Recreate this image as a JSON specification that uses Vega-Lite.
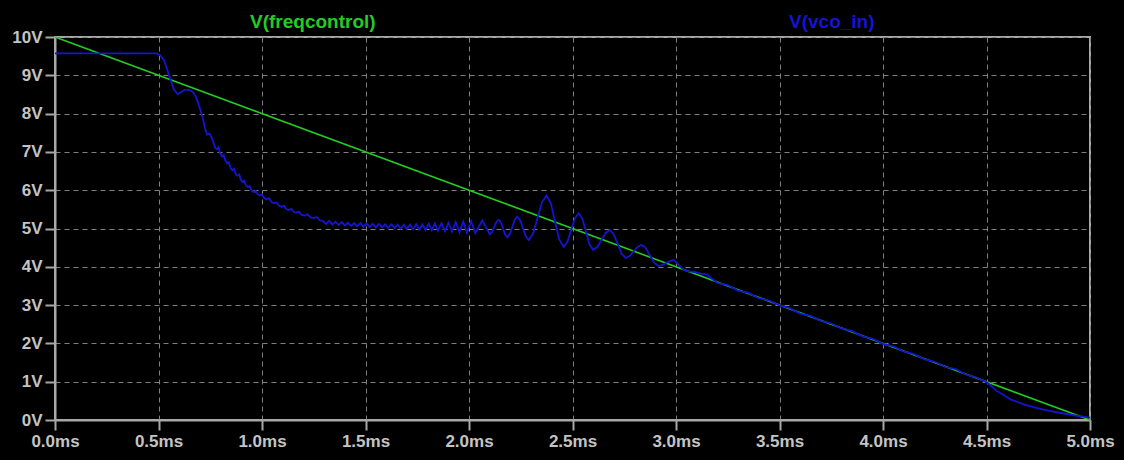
{
  "$schema": "https://vega.github.io/schema/vega-lite/v6.json",
  "width": 1035,
  "height": 383,
  "autosize": {"type": "none"},
  "padding": {"left": 55, "top": 37, "right": 34, "bottom": 40},
  "background": "#000000",
  "config": {"view": {"stroke": "#a8a8a8", "strokeWidth": 2}, "font": "Liberation Sans"},
  "data": {"values": [
    {"trace": "V(freqcontrol)", "t": 0, "v": 10},
    {"trace": "V(freqcontrol)", "t": 5, "v": 0},
    {"trace": "V(vco_in)", "t": 0, "v": 9.57},
    {"trace": "V(vco_in)", "t": 0.49, "v": 9.57},
    {"trace": "V(vco_in)", "t": 0.51, "v": 9.52},
    {"trace": "V(vco_in)", "t": 0.526, "v": 9.40},
    {"trace": "V(vco_in)", "t": 0.542, "v": 9.15},
    {"trace": "V(vco_in)", "t": 0.558, "v": 8.88},
    {"trace": "V(vco_in)", "t": 0.575, "v": 8.62},
    {"trace": "V(vco_in)", "t": 0.593, "v": 8.51},
    {"trace": "V(vco_in)", "t": 0.61, "v": 8.56},
    {"trace": "V(vco_in)", "t": 0.625, "v": 8.62},
    {"trace": "V(vco_in)", "t": 0.646, "v": 8.62},
    {"trace": "V(vco_in)", "t": 0.665, "v": 8.57},
    {"trace": "V(vco_in)", "t": 0.679, "v": 8.45},
    {"trace": "V(vco_in)", "t": 0.69, "v": 8.30},
    {"trace": "V(vco_in)", "t": 0.703, "v": 8.09},
    {"trace": "V(vco_in)", "t": 0.715, "v": 7.85},
    {"trace": "V(vco_in)", "t": 0.727, "v": 7.57},
    {"trace": "V(vco_in)", "t": 0.735, "v": 7.45},
    {"trace": "V(vco_in)", "t": 0.745, "v": 7.48},
    {"trace": "V(vco_in)", "t": 0.755, "v": 7.40},
    {"trace": "V(vco_in)", "t": 0.765, "v": 7.25},
    {"trace": "V(vco_in)", "t": 0.775, "v": 7.10},
    {"trace": "V(vco_in)", "t": 0.783, "v": 7.07},
    {"trace": "V(vco_in)", "t": 0.79, "v": 7.12},
    {"trace": "V(vco_in)", "t": 0.798, "v": 6.95},
    {"trace": "V(vco_in)", "t": 0.808, "v": 6.88},
    {"trace": "V(vco_in)", "t": 0.815, "v": 6.92},
    {"trace": "V(vco_in)", "t": 0.822, "v": 6.78},
    {"trace": "V(vco_in)", "t": 0.832, "v": 6.70},
    {"trace": "V(vco_in)", "t": 0.84, "v": 6.73},
    {"trace": "V(vco_in)", "t": 0.848, "v": 6.58},
    {"trace": "V(vco_in)", "t": 0.857, "v": 6.52},
    {"trace": "V(vco_in)", "t": 0.865, "v": 6.56},
    {"trace": "V(vco_in)", "t": 0.873, "v": 6.42},
    {"trace": "V(vco_in)", "t": 0.882, "v": 6.38},
    {"trace": "V(vco_in)", "t": 0.89, "v": 6.41},
    {"trace": "V(vco_in)", "t": 0.898, "v": 6.27},
    {"trace": "V(vco_in)", "t": 0.906, "v": 6.22},
    {"trace": "V(vco_in)", "t": 0.914, "v": 6.25},
    {"trace": "V(vco_in)", "t": 0.922, "v": 6.13},
    {"trace": "V(vco_in)", "t": 0.932, "v": 6.08},
    {"trace": "V(vco_in)", "t": 0.94, "v": 6.11},
    {"trace": "V(vco_in)", "t": 0.95, "v": 5.99},
    {"trace": "V(vco_in)", "t": 0.96, "v": 5.95},
    {"trace": "V(vco_in)", "t": 0.97, "v": 5.98},
    {"trace": "V(vco_in)", "t": 0.98, "v": 5.89},
    {"trace": "V(vco_in)", "t": 0.99, "v": 5.86},
    {"trace": "V(vco_in)", "t": 1.0, "v": 5.89},
    {"trace": "V(vco_in)", "t": 1.01, "v": 5.80},
    {"trace": "V(vco_in)", "t": 1.022, "v": 5.76},
    {"trace": "V(vco_in)", "t": 1.034, "v": 5.79},
    {"trace": "V(vco_in)", "t": 1.046, "v": 5.69},
    {"trace": "V(vco_in)", "t": 1.058, "v": 5.66},
    {"trace": "V(vco_in)", "t": 1.07, "v": 5.68},
    {"trace": "V(vco_in)", "t": 1.082, "v": 5.60},
    {"trace": "V(vco_in)", "t": 1.094, "v": 5.57},
    {"trace": "V(vco_in)", "t": 1.106, "v": 5.59},
    {"trace": "V(vco_in)", "t": 1.118, "v": 5.51},
    {"trace": "V(vco_in)", "t": 1.13, "v": 5.48},
    {"trace": "V(vco_in)", "t": 1.142, "v": 5.51},
    {"trace": "V(vco_in)", "t": 1.154, "v": 5.43},
    {"trace": "V(vco_in)", "t": 1.166, "v": 5.41},
    {"trace": "V(vco_in)", "t": 1.178, "v": 5.44},
    {"trace": "V(vco_in)", "t": 1.19, "v": 5.36},
    {"trace": "V(vco_in)", "t": 1.205, "v": 5.34},
    {"trace": "V(vco_in)", "t": 1.22, "v": 5.37},
    {"trace": "V(vco_in)", "t": 1.235, "v": 5.29},
    {"trace": "V(vco_in)", "t": 1.25, "v": 5.27},
    {"trace": "V(vco_in)", "t": 1.265, "v": 5.30},
    {"trace": "V(vco_in)", "t": 1.28, "v": 5.21},
    {"trace": "V(vco_in)", "t": 1.295, "v": 5.19},
    {"trace": "V(vco_in)", "t": 1.31, "v": 5.12},
    {"trace": "V(vco_in)", "t": 1.325, "v": 5.20},
    {"trace": "V(vco_in)", "t": 1.34, "v": 5.10},
    {"trace": "V(vco_in)", "t": 1.355, "v": 5.18},
    {"trace": "V(vco_in)", "t": 1.37, "v": 5.09},
    {"trace": "V(vco_in)", "t": 1.385, "v": 5.17},
    {"trace": "V(vco_in)", "t": 1.40, "v": 5.08},
    {"trace": "V(vco_in)", "t": 1.415, "v": 5.15},
    {"trace": "V(vco_in)", "t": 1.43, "v": 5.07},
    {"trace": "V(vco_in)", "t": 1.445, "v": 5.14},
    {"trace": "V(vco_in)", "t": 1.46, "v": 5.06},
    {"trace": "V(vco_in)", "t": 1.475, "v": 5.14},
    {"trace": "V(vco_in)", "t": 1.49, "v": 5.05},
    {"trace": "V(vco_in)", "t": 1.505, "v": 5.13},
    {"trace": "V(vco_in)", "t": 1.52, "v": 5.04},
    {"trace": "V(vco_in)", "t": 1.535, "v": 5.12},
    {"trace": "V(vco_in)", "t": 1.55, "v": 5.03},
    {"trace": "V(vco_in)", "t": 1.565, "v": 5.12},
    {"trace": "V(vco_in)", "t": 1.58, "v": 5.03},
    {"trace": "V(vco_in)", "t": 1.595, "v": 5.11},
    {"trace": "V(vco_in)", "t": 1.61, "v": 5.02},
    {"trace": "V(vco_in)", "t": 1.625, "v": 5.11},
    {"trace": "V(vco_in)", "t": 1.64, "v": 5.01},
    {"trace": "V(vco_in)", "t": 1.655, "v": 5.10},
    {"trace": "V(vco_in)", "t": 1.67, "v": 5.00},
    {"trace": "V(vco_in)", "t": 1.685, "v": 5.10},
    {"trace": "V(vco_in)", "t": 1.70, "v": 4.99},
    {"trace": "V(vco_in)", "t": 1.715, "v": 5.10},
    {"trace": "V(vco_in)", "t": 1.73, "v": 4.98},
    {"trace": "V(vco_in)", "t": 1.745, "v": 5.11},
    {"trace": "V(vco_in)", "t": 1.76, "v": 4.97},
    {"trace": "V(vco_in)", "t": 1.775, "v": 5.11},
    {"trace": "V(vco_in)", "t": 1.79, "v": 4.96},
    {"trace": "V(vco_in)", "t": 1.805, "v": 5.12},
    {"trace": "V(vco_in)", "t": 1.82, "v": 4.95},
    {"trace": "V(vco_in)", "t": 1.835, "v": 5.13},
    {"trace": "V(vco_in)", "t": 1.85, "v": 4.94},
    {"trace": "V(vco_in)", "t": 1.867, "v": 5.14},
    {"trace": "V(vco_in)", "t": 1.884, "v": 4.93},
    {"trace": "V(vco_in)", "t": 1.901, "v": 5.15},
    {"trace": "V(vco_in)", "t": 1.918, "v": 4.92},
    {"trace": "V(vco_in)", "t": 1.936, "v": 5.17},
    {"trace": "V(vco_in)", "t": 1.954, "v": 4.90},
    {"trace": "V(vco_in)", "t": 1.972, "v": 5.18},
    {"trace": "V(vco_in)", "t": 1.99, "v": 4.89},
    {"trace": "V(vco_in)", "t": 2.01, "v": 5.19},
    {"trace": "V(vco_in)", "t": 2.03, "v": 4.88},
    {"trace": "V(vco_in)", "t": 2.047, "v": 5.045},
    {"trace": "V(vco_in)", "t": 2.064, "v": 5.21},
    {"trace": "V(vco_in)", "t": 2.082, "v": 5.03},
    {"trace": "V(vco_in)", "t": 2.100, "v": 4.85},
    {"trace": "V(vco_in)", "t": 2.111, "v": 4.905},
    {"trace": "V(vco_in)", "t": 2.122, "v": 5.04},
    {"trace": "V(vco_in)", "t": 2.133, "v": 5.175},
    {"trace": "V(vco_in)", "t": 2.144, "v": 5.23},
    {"trace": "V(vco_in)", "t": 2.154, "v": 5.163},
    {"trace": "V(vco_in)", "t": 2.1645, "v": 5.00},
    {"trace": "V(vco_in)", "t": 2.175, "v": 4.837},
    {"trace": "V(vco_in)", "t": 2.185, "v": 4.77},
    {"trace": "V(vco_in)", "t": 2.197, "v": 4.849},
    {"trace": "V(vco_in)", "t": 2.209, "v": 5.04},
    {"trace": "V(vco_in)", "t": 2.221, "v": 5.231},
    {"trace": "V(vco_in)", "t": 2.233, "v": 5.31},
    {"trace": "V(vco_in)", "t": 2.247, "v": 5.221},
    {"trace": "V(vco_in)", "t": 2.261, "v": 5.005},
    {"trace": "V(vco_in)", "t": 2.275, "v": 4.789},
    {"trace": "V(vco_in)", "t": 2.289, "v": 4.70},
    {"trace": "V(vco_in)", "t": 2.310, "v": 4.869},
    {"trace": "V(vco_in)", "t": 2.3315, "v": 5.28},
    {"trace": "V(vco_in)", "t": 2.353, "v": 5.691},
    {"trace": "V(vco_in)", "t": 2.374, "v": 5.86},
    {"trace": "V(vco_in)", "t": 2.395, "v": 5.664},
    {"trace": "V(vco_in)", "t": 2.4155, "v": 5.19},
    {"trace": "V(vco_in)", "t": 2.436, "v": 4.716},
    {"trace": "V(vco_in)", "t": 2.457, "v": 4.52},
    {"trace": "V(vco_in)", "t": 2.475, "v": 4.648},
    {"trace": "V(vco_in)", "t": 2.4935, "v": 4.96},
    {"trace": "V(vco_in)", "t": 2.512, "v": 5.272},
    {"trace": "V(vco_in)", "t": 2.53, "v": 5.40},
    {"trace": "V(vco_in)", "t": 2.5475, "v": 5.26},
    {"trace": "V(vco_in)", "t": 2.565, "v": 4.92},
    {"trace": "V(vco_in)", "t": 2.5825, "v": 4.58},
    {"trace": "V(vco_in)", "t": 2.60, "v": 4.44},
    {"trace": "V(vco_in)", "t": 2.62, "v": 4.516},
    {"trace": "V(vco_in)", "t": 2.64, "v": 4.70},
    {"trace": "V(vco_in)", "t": 2.66, "v": 4.884},
    {"trace": "V(vco_in)", "t": 2.68, "v": 4.96},
    {"trace": "V(vco_in)", "t": 2.699, "v": 4.853},
    {"trace": "V(vco_in)", "t": 2.7185, "v": 4.595},
    {"trace": "V(vco_in)", "t": 2.738, "v": 4.337},
    {"trace": "V(vco_in)", "t": 2.757, "v": 4.23},
    {"trace": "V(vco_in)", "t": 2.776, "v": 4.28},
    {"trace": "V(vco_in)", "t": 2.795, "v": 4.40},
    {"trace": "V(vco_in)", "t": 2.814, "v": 4.52},
    {"trace": "V(vco_in)", "t": 2.833, "v": 4.57},
    {"trace": "V(vco_in)", "t": 2.85, "v": 4.52},
    {"trace": "V(vco_in)", "t": 2.874, "v": 4.30},
    {"trace": "V(vco_in)", "t": 2.895, "v": 4.10},
    {"trace": "V(vco_in)", "t": 2.916, "v": 4.02},
    {"trace": "V(vco_in)", "t": 2.935, "v": 4.05},
    {"trace": "V(vco_in)", "t": 2.97, "v": 4.15},
    {"trace": "V(vco_in)", "t": 2.989, "v": 4.18},
    {"trace": "V(vco_in)", "t": 3.013, "v": 4.05},
    {"trace": "V(vco_in)", "t": 3.037, "v": 3.92},
    {"trace": "V(vco_in)", "t": 3.06, "v": 3.88},
    {"trace": "V(vco_in)", "t": 3.09, "v": 3.87},
    {"trace": "V(vco_in)", "t": 3.12, "v": 3.82},
    {"trace": "V(vco_in)", "t": 3.15, "v": 3.80},
    {"trace": "V(vco_in)", "t": 3.175, "v": 3.68},
    {"trace": "V(vco_in)", "t": 3.2, "v": 3.58},
    {"trace": "V(vco_in)", "t": 3.25, "v": 3.52},
    {"trace": "V(vco_in)", "t": 3.30, "v": 3.38},
    {"trace": "V(vco_in)", "t": 3.35, "v": 3.32},
    {"trace": "V(vco_in)", "t": 3.40, "v": 3.18},
    {"trace": "V(vco_in)", "t": 3.45, "v": 3.12},
    {"trace": "V(vco_in)", "t": 3.50, "v": 2.99},
    {"trace": "V(vco_in)", "t": 3.55, "v": 2.92},
    {"trace": "V(vco_in)", "t": 3.60, "v": 2.78},
    {"trace": "V(vco_in)", "t": 3.65, "v": 2.72},
    {"trace": "V(vco_in)", "t": 3.70, "v": 2.59},
    {"trace": "V(vco_in)", "t": 3.75, "v": 2.52},
    {"trace": "V(vco_in)", "t": 3.80, "v": 2.39},
    {"trace": "V(vco_in)", "t": 3.85, "v": 2.32},
    {"trace": "V(vco_in)", "t": 3.90, "v": 2.19},
    {"trace": "V(vco_in)", "t": 3.95, "v": 2.12},
    {"trace": "V(vco_in)", "t": 4.00, "v": 1.99},
    {"trace": "V(vco_in)", "t": 4.05, "v": 1.92},
    {"trace": "V(vco_in)", "t": 4.10, "v": 1.79},
    {"trace": "V(vco_in)", "t": 4.15, "v": 1.72},
    {"trace": "V(vco_in)", "t": 4.20, "v": 1.59},
    {"trace": "V(vco_in)", "t": 4.25, "v": 1.52},
    {"trace": "V(vco_in)", "t": 4.30, "v": 1.39},
    {"trace": "V(vco_in)", "t": 4.35, "v": 1.33},
    {"trace": "V(vco_in)", "t": 4.40, "v": 1.19},
    {"trace": "V(vco_in)", "t": 4.45, "v": 1.11},
    {"trace": "V(vco_in)", "t": 4.50, "v": 0.99},
    {"trace": "V(vco_in)", "t": 4.55, "v": 0.76},
    {"trace": "V(vco_in)", "t": 4.616, "v": 0.54},
    {"trace": "V(vco_in)", "t": 4.68, "v": 0.41},
    {"trace": "V(vco_in)", "t": 4.745, "v": 0.31},
    {"trace": "V(vco_in)", "t": 4.81, "v": 0.23},
    {"trace": "V(vco_in)", "t": 4.873, "v": 0.17},
    {"trace": "V(vco_in)", "t": 4.94, "v": 0.11},
    {"trace": "V(vco_in)", "t": 5.0, "v": 0.06}
  ]},
  "encoding": {
    "x": {
      "field": "t", "type": "quantitative",
      "scale": {"domain": [0, 5], "nice": false, "zero": false},
      "axis": {
        "title": null,
        "values": [0, 0.5, 1, 1.5, 2, 2.5, 3, 3.5, 4, 4.5, 5],
        "labelExpr": "format(datum.value, '.1f') + 'ms'",
        "grid": true, "gridDash": [5, 4], "gridColor": "#808080", "gridWidth": 1,
        "domainColor": "#a8a8a8", "domainWidth": 2,
        "tickColor": "#a8a8a8", "tickSize": 10, "tickWidth": 2,
        "labelColor": "#c4c4c4", "labelFont": "Liberation Sans", "labelFontWeight": "bold",
        "labelFontSize": 17, "labelPadding": 3, "labelFlush": false
      }
    },
    "y": {
      "field": "v", "type": "quantitative",
      "scale": {"domain": [0, 10], "nice": false},
      "axis": {
        "title": null,
        "values": [0, 1, 2, 3, 4, 5, 6, 7, 8, 9, 10],
        "labelExpr": "datum.value + 'V'",
        "grid": true, "gridDash": [5, 4], "gridColor": "#808080", "gridWidth": 1,
        "domainColor": "#a8a8a8", "domainWidth": 2,
        "tickColor": "#a8a8a8", "tickSize": 10, "tickWidth": 2,
        "labelColor": "#c4c4c4", "labelFont": "Liberation Sans", "labelFontWeight": "bold",
        "labelFontSize": 17, "labelPadding": 3, "labelFlush": false
      }
    },
    "color": {
      "field": "trace", "type": "nominal",
      "scale": {"domain": ["V(freqcontrol)", "V(vco_in)"], "range": ["#22cc22", "#1414d2"]},
      "legend": {
        "title": null, "orient": "none", "legendX": 176, "legendY": -25,
        "direction": "horizontal", "columnPadding": 394,
        "symbolSize": 0, "symbolStrokeWidth": 0, "symbolOpacity": 0, "labelOffset": 0,
        "labelFont": "Liberation Sans", "labelFontWeight": "bold", "labelFontSize": 19,
        "padding": 0,
        "encode": {"labels": {"update": {"fill": {"scale": "color", "field": "value"}}}}
      }
    }
  },
  "layer": [
    {"transform": [{"filter": "datum.trace == 'V(freqcontrol)'"}], "mark": {"type": "line", "strokeWidth": 1.6}},
    {"transform": [{"filter": "datum.trace == 'V(vco_in)'"}], "mark": {"type": "line", "strokeWidth": 1.8}}
  ]
}
